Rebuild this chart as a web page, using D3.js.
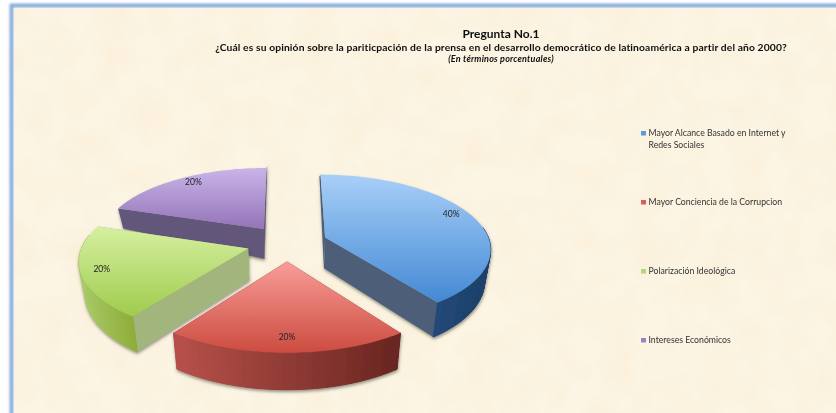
<!DOCTYPE html>
<meta charset="utf-8">
<style>
body { margin: 0; background: #fff; }
svg { display: block; font-family: Lato, "Open Sans", sans-serif; }
</style>

<svg width="836" height="413"></svg>
<script src="https://d3js.org/d3.v7.min.js"></script>

<script>

// chart values
let categories = ["Mayor Alcance Basado en Internet y Redes Sociales", "Mayor Conciencia de la Corrupcion", "Polarización Ideológica", "Intereses Económicos"];
let legendLines = [["Mayor Alcance Basado en Internet y", "Redes Sociales"], ["Mayor Conciencia de la Corrupcion"], ["Polarización Ideológica"], ["Intereses Económicos"]];
let values = [40, 20, 20, 20];
let titleLines = ["Pregunta No.1", "¿Cuál es su opinión sobre la pariticpación de la prensa en el desarrollo democrático de latinoamérica a partir del año 2000?", "(En términos porcentuales)"];

// colours per slice: top gradient, outer rim left to right, flat cut face
let topFrom = ["#a8cff8", "#f99d98", "#d5f09f", "#c9b4e8"];
let topTo = ["#4389d4", "#cc4c40", "#9fcb4e", "#9474b8"];
let rimFrom = ["#22497a", "#b8514b", "#a9ca68", "#7d6a9a"];
let rimTo = ["#1c4068", "#692620", "#8fae3c", "#7d6a9a"];
let cutFace = ["#4e5f78", "#6a2a25", "#a1b57c", "#62567a"];
let legendColor = ["#5b9bd9", "#d9605a", "#b5d77a", "#9c82c2"];

let svg = d3.select("svg");
let defs = svg.append("defs");

// paper texture
let paper = defs.append("filter").attr("id", "paper")
  .attr("x", 0).attr("y", 0).attr("width", 1).attr("height", 1);
paper.append("feTurbulence").attr("type", "fractalNoise").attr("baseFrequency", 0.03)
  .attr("numOctaves", 3).attr("seed", 4).attr("result", "n");
paper.append("feColorMatrix").attr("in", "n").attr("type", "matrix")
  .attr("values", "0 0 0 0 0.93  0 0 0 0 0.80  0 0 0 0 0.60  0.7 0 0 0 -0.22").attr("result", "spots");
paper.append("feFlood").attr("flood-color", "#fcf5e4").attr("result", "base");
paper.append("feMerge").selectAll("feMergeNode").data(["base", "spots"]).enter()
  .append("feMergeNode").attr("in", d => d);

let soft = defs.append("filter").attr("id", "soft")
  .attr("x", "-10%").attr("y", "-10%").attr("width", "120%").attr("height", "120%");
soft.append("feGaussianBlur").attr("stdDeviation", 0.9);

let textBlur = defs.append("filter").attr("id", "textBlur")
  .attr("x", "-5%").attr("y", "-20%").attr("width", "110%").attr("height", "140%");
textBlur.append("feGaussianBlur").attr("stdDeviation", 0.3);

let shadow = defs.append("filter").attr("id", "shadow")
  .attr("x", "-10%").attr("y", "-10%").attr("width", "120%").attr("height", "125%");
shadow.append("feGaussianBlur").attr("in", "SourceGraphic").attr("stdDeviation", 0.4).attr("result", "body");
shadow.append("feDropShadow").attr("in", "body").attr("dx", 0.5).attr("dy", 2).attr("stdDeviation", 1.4)
  .attr("flood-color", "#4a4a3a").attr("flood-opacity", 0.55);

// frame
svg.append("rect").attr("x", 11.5).attr("y", 5.5).attr("width", 840).attr("height", 430)
  .attr("fill", "none").attr("stroke", "#8aaddb").attr("stroke-width", 4).attr("filter", "url(#soft)");
svg.append("rect").attr("x", 14).attr("y", 8).attr("width", 822).attr("height", 405)
  .attr("fill", "#fcf5e4").attr("filter", "url(#paper)");

// perspective projection of the pie plane
let cx = 287, cy = 243, rx = 165, ry = 73, persp = 0.138, explode = 0.245;
let project = (X, Z) => {
  let den = 1 - persp * Z;
  return [cx + rx * X / den, cy + ry * Z / den];
};
let depth = d3.scaleLinear().domain([-0.51, -0.2, 1.25]).range([20, 30, 37]);
let drop = (X, Z) => {
  let p = project(X, Z);
  return [p[0] - 0.03 * (p[0] - cx), p[1] + depth(Z)];
};
let line = d3.line();

let pie = d3.pie().sort(null)(values);

pie.forEach(function(d, i) {
  d.mid = (d.startAngle + d.endAngle) / 2;
  d.ox = explode * Math.sin(d.mid);
  d.oz = -explode * Math.cos(d.mid);
  d.world = a => [d.ox + Math.sin(a), d.oz - Math.cos(a)];
  d.rimAngles = d3.range(0, 61).map(k => d.startAngle + (d.endAngle - d.startAngle) * k / 60);
});

// gradients run top to bottom of each slice's top face
pie.forEach(function(d, i) {
  let pts = d.rimAngles.map(a => project(...d.world(a))).concat([project(d.ox, d.oz)]);
  let g = defs.append("linearGradient").attr("id", "top" + i)
    .attr("gradientUnits", "userSpaceOnUse")
    .attr("x1", 0).attr("x2", 0)
    .attr("y1", d3.min(pts, p => p[1])).attr("y2", d3.max(pts, p => p[1]));
  g.append("stop").attr("offset", 0).attr("stop-color", topFrom[i]);
  g.append("stop").attr("offset", 1).attr("stop-color", topTo[i]);
});

// back slices first, the red one in front
let drawOrder = [3, 0, 2, 1];

drawOrder.forEach(function(i) {
  let d = pie[i];
  let g = svg.append("g").attr("filter", "url(#shadow)");
  let centre = [d.ox, d.oz];
  let rimColor = d3.scaleLinear().domain([0, 1]).range([rimFrom[i], rimTo[i]]);

  // cut faces from the apex to both ends of the rim
  [d.startAngle, d.endAngle].forEach(function(a) {
    let w = d.world(a);
    g.append("path")
      .attr("d", line([project(...centre), project(...w), drop(...w), drop(...centre)]) + "Z")
      .attr("fill", cutFace[i]);
  });

  // rim, one quad per step, only where it faces the viewer
  let rim = d3.pairs(d.rimAngles).filter(q => d.world(q[0])[1] > d.oz - 0.17);
  let xs = d3.extent(rim.flatMap(q => [project(...d.world(q[0]))[0], project(...d.world(q[1]))[0]]));
  rim.forEach(function(q) {
    let w0 = d.world(q[0]), w1 = d.world(q[1]);
    let t = (project(...w0)[0] - xs[0]) / (xs[1] - xs[0] || 1);
    g.append("path")
      .attr("d", line([project(...w0), project(...w1), drop(...w1), drop(...w0)]) + "Z")
      .attr("fill", rimColor(t)).attr("stroke", rimColor(t)).attr("stroke-width", 1);
  });

  // top face
  let outline = [project(...centre)].concat(d.rimAngles.map(a => project(...d.world(a))));
  g.append("path").attr("d", line(outline) + "Z").attr("fill", "url(#top" + i + ")");
});

// percentage labels, nudged by hand off the projected spot
let total = d3.sum(values);
let labelDx = [0, 0, -5, 1];
let labelDy = [-2, 3, 3, 0];
let labelAt = d => project(d.ox + 0.85 * Math.sin(d.mid), d.oz - 0.85 * Math.cos(d.mid));
svg.append("g").attr("filter", "url(#textBlur)").selectAll("text").data(pie).enter().append("text")
  .attr("x", (d, i) => labelAt(d)[0] + labelDx[i])
  .attr("y", (d, i) => labelAt(d)[1] + labelDy[i])
  .attr("text-anchor", "middle")
  .attr("font-size", 8.5).attr("fill", "#222")
  .text(d => Math.round(d.value / total * 100) + "%");

// titles
let titleX = 501;
let title = svg.append("g").attr("text-anchor", "middle").attr("fill", "#111").attr("filter", "url(#textBlur)");
title.append("text").attr("x", titleX).attr("y", 38).attr("font-size", 12).attr("font-weight", 700).text(titleLines[0]);
title.append("text").attr("x", titleX).attr("y", 51).attr("font-size", 10.3).attr("letter-spacing", 0.12).attr("font-weight", 700).text(titleLines[1]);
title.append("text").attr("x", titleX).attr("y", 62).attr("font-size", 9).attr("letter-spacing", 0.2).attr("font-weight", 700).attr("font-style", "italic").text(titleLines[2]);

// legend
let legendY = d3.scalePoint().domain(categories).range([133, 340]);
let legend = svg.append("g").attr("filter", "url(#textBlur)").selectAll("g").data(categories).enter().append("g")
  .attr("transform", d => "translate(641," + legendY(d) + ")");
legend.append("rect").attr("y", -2).attr("width", 5).attr("height", 4.5)
  .attr("fill", (d, i) => legendColor[i]);
legend.each(function(d, i) {
  d3.select(this).selectAll("text").data(legendLines[i]).enter().append("text")
    .attr("x", 7.5).attr("y", (t, k) => 3 + k * 11.5)
    .attr("font-size", 8.7).attr("fill", "#333")
    .text(t => t);
});

</script>
